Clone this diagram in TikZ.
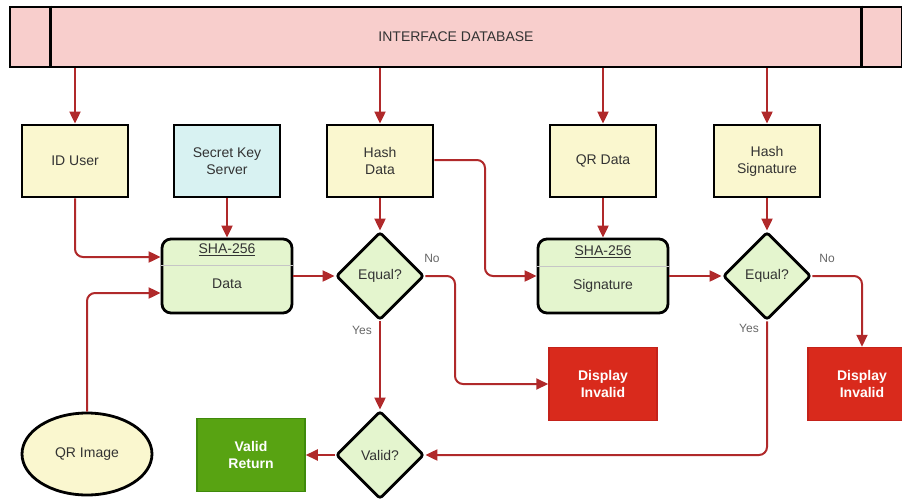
\documentclass[tikz,border=0pt]{standalone}
\usepackage{fontspec}
\setmainfont{Liberation Sans}
\usetikzlibrary{shapes.geometric,arrows.meta}

\definecolor{dbpink}{HTML}{F8CECC}
\definecolor{noteyellow}{HTML}{FAF7CF}
\definecolor{keyblue}{HTML}{D8F2F2}
\definecolor{hashgreen}{HTML}{E4F5CE}
\definecolor{okgreen}{HTML}{58A312}
\definecolor{okgreenline}{HTML}{3F8A0B}
\definecolor{badred}{HTML}{D92A1C}
\definecolor{badredline}{HTML}{C4221A}
\definecolor{flowred}{HTML}{B0292A}

\begin{document}
\begin{tikzpicture}[x=1pt,y=-1pt,
		font=\fontsize{14}{17}\selectfont,
		every node/.style={text=black!80},
		box/.style={draw=black,line width=2.8pt,fill=noteyellow,minimum width=106pt,minimum height=72pt,align=center},
		hashbox/.style={draw=black,line width=2.8pt,fill=hashgreen,rounded corners=9pt,minimum width=130pt,minimum height=74pt},
		test/.style={diamond,draw=black,line width=2.8pt,fill=hashgreen,minimum width=88pt,minimum height=88pt,inner sep=0pt,rounded corners=3pt},
		result/.style={minimum width=108pt,minimum height=73pt,line width=1.5pt,align=center,text=white,font=\fontsize{14}{17}\selectfont\bfseries},
		flow/.style={draw=flowred,line width=2pt,-{Triangle[length=12pt,width=11pt]},rounded corners=8pt},
		tag/.style={text=black!60,font=\fontsize{12}{14}\selectfont}]
		\useasboundingbox (0,0) rectangle (902,498);
		\node [draw=black,line width=2.8pt,fill=dbpink,minimum width=892pt,minimum height=60pt] (db) at (456,37) {INTERFACE DATABASE};
		\draw [line width=2.8pt] ([xshift=42pt]db.north west) -- ([xshift=42pt]db.south west);
		\draw [line width=2.8pt] ([xshift=-42pt]db.north east) -- ([xshift=-42pt]db.south east);
		\node [box] (iduser) at (75,161) {ID User};
		\node [box,fill=keyblue] (secret) at (227,161) {Secret Key\\Server};
		\node [box] (hashdata) at (380,161) {Hash\\Data};
		\node [box] (qrdata) at (603,161) {QR Data};
		\node [box] (hashsig) at (767,161) {Hash\\Signature};
		\node [hashbox] (shadata) at (227,276) {};
		\draw [gray!45,line width=1pt] ([yshift=-28pt]shadata.north west) -- ([yshift=-28pt]shadata.north east);
		\node at (227,250) {\underline{SHA-256}};
		\node at (227,284) {Data};
		\node [hashbox] (shasig) at (603,276) {};
		\draw [gray!45,line width=1pt] ([yshift=-29pt]shasig.north west) -- ([yshift=-29pt]shasig.north east);
		\node at (603,252) {\underline{SHA-256}};
		\node at (603,286) {Signature};
		\node [test] (equal1) at (380,276) {Equal?};
		\node [test] (equal2) at (767,276) {Equal?};
		\node [test] (valid) at (380,455) {Valid?};
		\node [ellipse,draw=black,line width=2.8pt,fill=noteyellow,minimum width=130pt,minimum height=82pt] (qrimage) at (87,454) {QR Image};
		\node [result,draw=okgreenline,fill=okgreen] (validret) at (251,455) {Valid\\Return};
		\node [result,draw=badredline,fill=badred] (invalid1) at (603,384) {Display\\Invalid};
		\node [result,draw=badredline,fill=badred] (invalid2) at (862,384) {Display\\Invalid};
		\draw [flow] (db.south -| iduser) -- (iduser);
		\draw [flow] (db.south -| hashdata) -- (hashdata);
		\draw [flow] (db.south -| qrdata) -- (qrdata);
		\draw [flow] (db.south -| hashsig) -- (hashsig);
		\draw [flow] (iduser) |- ([yshift=19pt]shadata.west);
		\draw [flow] (qrimage) |- ([yshift=-17pt]shadata.west);
		\draw [flow] (secret) -- (shadata);
		\draw [flow] (shadata) -- (equal1);
		\draw [flow] (hashdata) -- (equal1);
		\draw [flow] (hashdata.east |- 0,160) -- (485,160) |- (shasig.west);
		\draw [flow] (qrdata) -- (shasig);
		\draw [flow] (shasig) -- (equal2);
		\draw [flow] (hashsig) -- (equal2);
		\draw [flow] (equal1.east) -| (455,330) |- (invalid1.west);
		\draw [flow] (equal2.east) -| (invalid2.north);
		\draw [flow] (equal1.south) -- (valid.north);
		\draw [flow] (equal2.south) |- (valid.east);
		\draw [flow] (valid.west) -- (validret.east);
		\node [tag] (no1) at (432,258) {No};
		\node [tag] (no2) at (827,258) {No};
		\node [tag] (yes1) at (362,330) {Yes};
		\node [tag] (yes2) at (749,328) {Yes};
	\end{tikzpicture}
\end{document}
